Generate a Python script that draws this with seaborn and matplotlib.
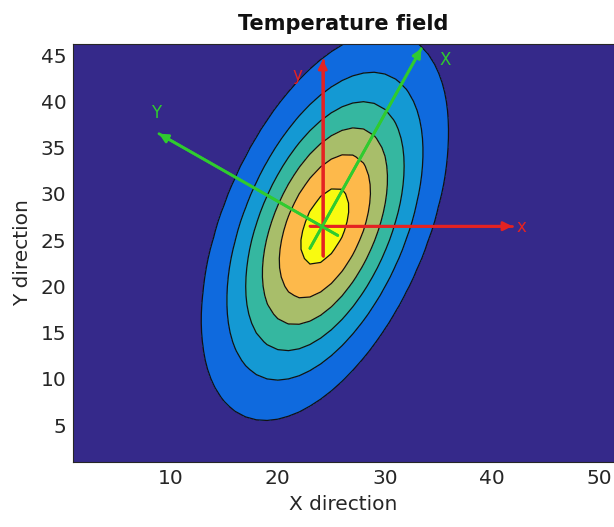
import numpy as np
import pandas as pd
import matplotlib
matplotlib.use("Agg")
import matplotlib.pyplot as plt
import seaborn as sns

# ---- field parameters ----
center_x = 24.4
center_y = 26.5
sigma_major = 11.35
sigma_minor = 5.0
major_angle_deg = 71.3
peak_value = 32.3
contour_levels = [5, 10, 15, 20, 25, 30]
region_colors = ["#35298a", "#0f6ade", "#1499d3", "#35b7a0",
                 "#a8be6a", "#fdb94b", "#f9fa10"]

# ---- arrows (tail -> tip) and their labels ----
arrow_names = ["x", "y", "X", "Y"]
arrow_colors = ["#e52222", "#e52222", "#2fcb2f", "#2fcb2f"]
tail_x = [23.0, 24.2, 23.0, 25.6]
tail_y = [26.5, 23.3, 24.1, 25.5]
tip_x = [41.9, 24.2, 33.4, 8.9]
tip_y = [26.5, 44.5, 45.7, 36.5]
label_x = [42.8, 21.8, 35.6, 8.6]
label_y = [26.4, 42.8, 44.5, 38.7]

x_ticks = [10, 20, 30, 40, 50]
y_ticks = [5, 10, 15, 20, 25, 30, 35, 40, 45]

sns.set_theme(style="ticks")
plt.rcParams["font.family"] = ["DejaVu Sans"]

# grid and field
gx = np.arange(0, 53, 1.0)
gy = np.arange(0, 48, 1.0)
X, Y = np.meshgrid(gx, gy)
th = np.deg2rad(major_angle_deg)
dx = X - center_x
dy = Y - center_y
u = dx * np.cos(th) + dy * np.sin(th)
v = -dx * np.sin(th) + dy * np.cos(th)
Z = peak_value * np.exp(-0.5 * (u ** 2 / sigma_major ** 2 + v ** 2 / sigma_minor ** 2))

fig = plt.figure(figsize=(6.14, 5.27), dpi=100)
ax = fig.add_axes([73.3 / 614, 1 - 462 / 527, 1 - 73.3 / 614, (462 - 44) / 527])

fill_levels = [-1] + contour_levels + [peak_value + 10]
ax.contourf(X, Y, Z, levels=fill_levels, colors=region_colors)
ax.contour(X, Y, Z, levels=contour_levels, colors="#111111", linewidths=0.9)

# arrow shafts with seaborn, heads with annotate
shaft_df = pd.DataFrame({
    "x": [v for pair in zip(tail_x, tip_x) for v in pair],
    "y": [v for pair in zip(tail_y, tip_y) for v in pair],
    "name": [n for n in arrow_names for _ in range(2)],
})
sns.lineplot(data=shaft_df, x="x", y="y", hue="name", palette=dict(zip(arrow_names, arrow_colors)),
             sort=False, estimator=None, linewidth=2.0, legend=False, ax=ax)
for i, name in enumerate(arrow_names):
    ax.annotate("", xy=(tip_x[i], tip_y[i]), xytext=(tail_x[i], tail_y[i]),
                arrowprops=dict(arrowstyle="-|>", color=arrow_colors[i], lw=2.0,
                                mutation_scale=13, shrinkA=0, shrinkB=0))
    ax.text(label_x[i], label_y[i], name, color=arrow_colors[i], fontsize=12,
            ha="center", va="center")

ax.set_xlim(0.9, 51.4)
ax.set_ylim(1.0, 46.2)
ax.set_xticks(x_ticks)
ax.set_yticks(y_ticks)
ax.tick_params(direction="in", length=4, width=0.8, labelsize=14.5, colors="#262626",
               top=True, right=True, labelcolor="#262626", pad=5)
for s in ax.spines.values():
    s.set_color("#262626")
    s.set_linewidth(0.8)
ax.set_xlabel("X direction", fontsize=14.5, color="#262626", labelpad=5)
ax.set_ylabel("Y direction", fontsize=14.5, color="#262626", labelpad=6)
ax.set_title("Temperature field", fontsize=15, fontweight="bold", color="#111111", pad=10)

fig.savefig("out.png", dpi=100)
